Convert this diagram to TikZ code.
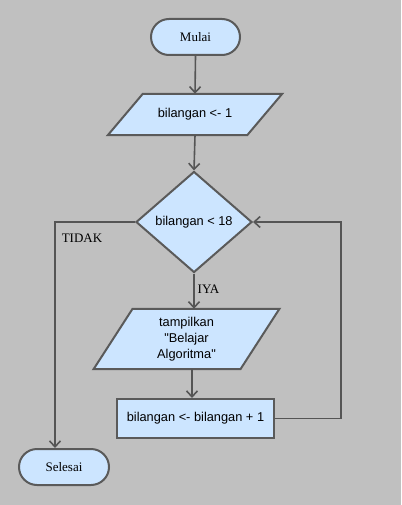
\documentclass[tikz,border=0pt]{standalone}
\usepackage{fontspec}
\setmainfont{Liberation Serif}
\newfontfamily\sansf{Liberation Sans}
\usetikzlibrary{shapes.geometric,arrows.meta,backgrounds}
\definecolor{bg}{RGB}{192,192,192}
\definecolor{boxfill}{RGB}{204,229,255}
\definecolor{boxline}{RGB}{90,90,90}
\definecolor{conn}{RGB}{85,85,85}
\begin{document}
\begin{tikzpicture}[x=1pt,y=-1pt,
  term/.style={draw=boxline,fill=boxfill,line width=2pt,rounded corners=18pt,
    minimum width=#1,minimum height=36pt,inner sep=0pt,
    font=\fontsize{13}{15}\selectfont},
  iobox/.style={minimum height=#1,inner sep=0pt,align=center,
    font=\sansf\fontsize{12.8}{16}\selectfont},
  decbox/.style={diamond,draw=boxline,fill=boxfill,line width=2pt,inner sep=0pt,
    minimum width=116pt,minimum height=101pt,font=\sansf\fontsize{12.8}{14}\selectfont},
  procbox/.style={rectangle,draw=boxline,fill=boxfill,line width=2pt,inner sep=0pt,
    minimum width=157pt,minimum height=39pt,font=\sansf\fontsize{12.8}{14}\selectfont},
  shapeline/.style={draw=boxline,fill=boxfill,line width=2pt,line join=miter},
  conn/.style={draw=conn,line width=1.6pt,-{Straight Barb[length=6pt,width=11pt,line width=1.6pt]}},
  lbl/.style={font=\fontsize{13}{15}\selectfont,inner sep=0pt}
]
\useasboundingbox (0,0) rectangle (401,505);

\node[term=89pt] (mulai) at (195.5,37) {Mulai};
\node[iobox=41pt,minimum width=139pt] (p1) at (195,114.5) {bilangan <- 1};
\node[decbox] (dec) at (194,222) {bilangan < 18};
\node[iobox=60pt,minimum width=146.5pt] (p2) at (186.5,339) {tampilkan\\"Belajar\\Algoritma"};
\node[procbox] (inc) at (195.5,418.5) {bilangan <- bilangan + 1};
\node[term=90pt] (selesai) at (64,467) {Selesai};

\begin{scope}[on background layer]
\fill[bg] (0,0) rectangle (401,505);
\path[shapeline] ([xshift=17.5pt]p1.north west) -- ([xshift=17.5pt]p1.north east)
  -- ([xshift=-17.5pt]p1.south east) -- ([xshift=-17.5pt]p1.south west) -- cycle;
\path[shapeline] ([xshift=19.5pt]p2.north west) -- ([xshift=19.5pt]p2.north east)
  -- ([xshift=-19.5pt]p2.south east) -- ([xshift=-19.5pt]p2.south west) -- cycle;
\end{scope}

\coordinate (rightx) at (341,0);
\coordinate (leftx) at (55,0);
\coordinate (downx) at (192,0);

\draw[conn] (mulai.south) -- (p1.north);
\draw[conn] (p1.south) -- (dec.north);
\draw[conn] (dec.south) -- (dec.south |- p2.north);
\draw[conn] (p2.south -| downx) -- (inc.north -| downx);
\draw[conn] (inc.east) -- (inc.east -| rightx) -- (dec.east -| rightx) -- (dec.east);
\draw[conn] (dec.west) -- (dec.west -| leftx) -- (selesai.north -| leftx);

\node[lbl] (tidak) at (82,238.5) {TIDAK};
\node[lbl] (iya) at (208.5,289) {IYA};
\end{tikzpicture}
\end{document}
